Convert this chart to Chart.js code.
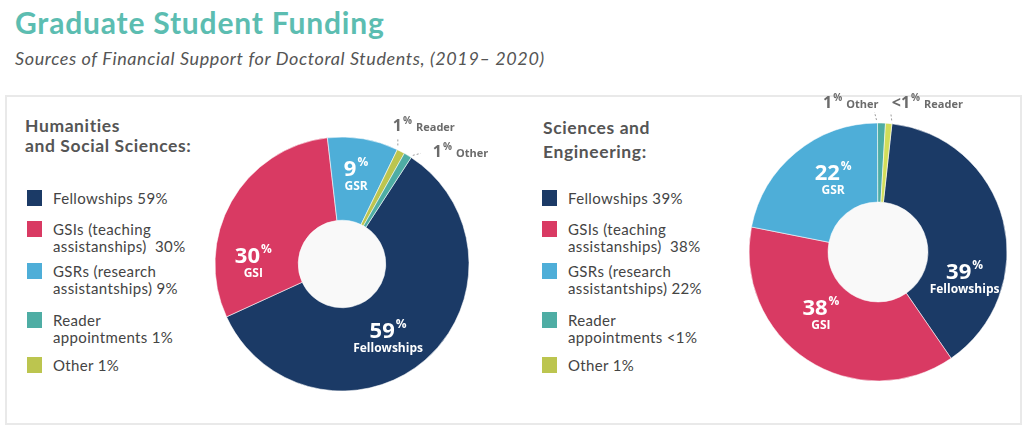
<!DOCTYPE html>
<html>
<head>
<meta charset="utf-8">
<script src="https://cdn.jsdelivr.net/npm/chart.js@4"></script>
<style>
  body { margin: 0; background: #fff; width: 1024px; height: 426px; overflow: hidden; position: relative; font-family: Lato, sans-serif; }
  #title { position: absolute; left: 15px; top: 4px; font: 700 30px Lato; letter-spacing: 0.8px; color: #5cbdb1; white-space: nowrap; }
  #subtitle { position: absolute; left: 15px; top: 47px; font: italic 18px Lato; letter-spacing: 0.6px; color: #555; white-space: nowrap; }
  #box { position: absolute; left: 5px; top: 95px; width: 1013px; height: 326px; border: 2px solid #e9e9e9; }
  .heading { position: absolute; margin: 0; font: 700 17.5px/20px Lato; letter-spacing: 0.6px; color: #555; white-space: pre; }
  #sciHeading { line-height: 24px; }
  .legend { position: absolute; list-style: none; margin: 0; padding: 0; color: #444; }
  .legend li { position: relative; padding-left: 26px; font: 15px/17px Lato; letter-spacing: 0.35px; white-space: pre; }
  .legend li:nth-child(1) { margin-bottom: 14px; }
  .legend li:nth-child(2) { margin-bottom: 8px; }
  .legend li:nth-child(3) { margin-bottom: 15px; }
  .legend li:nth-child(4) { margin-bottom: 11px; }
  .legend .sw { position: absolute; left: 0; top: 0; width: 15px; height: 16px; }
  canvas { position: absolute; }
</style>
</head>
<body>
<div id="title">Graduate Student Funding</div>
<div id="subtitle">Sources of Financial Support for Doctoral Students, (2019– 2020)</div>
<div id="box"></div>

<div class="heading" id="humHeading" style="left:25px; top:116px;">Humanities
and Social Sciences:</div>
<ul class="legend" id="humLegend" style="left:27px; top:190px;"></ul>
<canvas id="humChart" width="360" height="320" style="left:162px; top:104px;"></canvas>

<div class="heading" id="sciHeading" style="left:543px; top:116px;">Sciences and
Engineering:</div>
<ul class="legend" id="sciLegend" style="left:542px; top:190px;"></ul>
<canvas id="sciChart" width="280" height="340" style="left:738px; top:82px;"></canvas>

<script>
// legend (same order in both panels)
const legendNames = ['Fellowships', 'GSIs (teaching\nassistanships) ', 'GSRs (research\nassistantships)', 'Reader\nappointments', 'Other'];
const legendColors = ['#1b3a66', '#d93a63', '#4eaed8', '#4eada4', '#bcc54f'];
const humLegendValues = ['59%', '30%', '9%', '1%', '1%'];
const sciLegendValues = ['39%', '38%', '22%', '<1%', '1%'];

// slices, in the order they are drawn clockwise
const humTags = ['Fellowships', 'GSI', 'GSR', 'Reader', 'Other'];
const humValues = [59, 30, 9, 1, 1];
const humPct = ['59', '30', '9', '1', '1'];
const humColors = ['#1b3a66', '#d93a63', '#4eaed8', '#bcc54f', '#4eada4'];

const sciTags = ['Fellowships', 'GSI', 'GSR', 'Other', 'Reader'];
const sciValues = [39, 38, 22, 1, 0.8];
const sciPct = ['39', '38', '22', '1', '<1'];
const sciColors = ['#1b3a66', '#d93a63', '#4eaed8', '#4eada4', '#d2dd5a'];

const labelFont = '"Open Sans", sans-serif';

function buildLegend(id, values) {
    const ul = document.getElementById(id);
    for (let i = 0; i < legendNames.length; i++) {
        const li = document.createElement('li');
        const sw = document.createElement('span');
        sw.className = 'sw';
        sw.style.background = legendColors[i];
        li.appendChild(sw);
        li.appendChild(document.createTextNode(legendNames[i] + ' ' + values[i]));
        ul.appendChild(li);
    }
}

function drawInside(ctx, x, y, num, tag) {
    ctx.fillStyle = '#fff';
    ctx.textBaseline = 'alphabetic';
    ctx.textAlign = 'left';
    ctx.font = '700 22px ' + labelFont;
    const wn = ctx.measureText(num).width;
    ctx.font = '700 12px ' + labelFont;
    const wp = ctx.measureText('%').width;
    const left = x - (wn + 1 + wp) / 2;
    ctx.font = '700 22px ' + labelFont;
    ctx.fillText(num, left, y + 1);
    ctx.font = '700 12px ' + labelFont;
    ctx.fillText('%', left + wn + 1, y - 9);
    ctx.textAlign = 'center';
    ctx.fillText(tag, x, y + 15);
}

function drawOutside(ctx, ox, oy, out, num, tag) {
    ctx.save();
    ctx.strokeStyle = '#9a9a9a';
    ctx.lineWidth = 1;
    ctx.setLineDash([2, 2]);
    ctx.beginPath();
    ctx.moveTo(ox + out.leader[0], oy + out.leader[1]);
    ctx.lineTo(ox + out.leader[2], oy + out.leader[3]);
    ctx.stroke();
    ctx.restore();

    ctx.fillStyle = '#6b6b6b';
    ctx.textAlign = 'left';
    ctx.textBaseline = 'alphabetic';
    ctx.font = '700 16px ' + labelFont;
    const wn = ctx.measureText(num).width;
    ctx.font = '700 10px ' + labelFont;
    const wp = ctx.measureText('%').width;
    ctx.font = '700 11px ' + labelFont;
    const wt = ctx.measureText(tag).width;
    const total = wn + 1 + wp + 4 + wt;
    let left = ox + out.dx;
    if (out.align === 'right') left -= total;
    const base = oy + out.dy;
    ctx.font = '700 16px ' + labelFont;
    ctx.fillText(num, left, base);
    ctx.font = '700 10px ' + labelFont;
    ctx.fillText('%', left + wn + 1, base - 7);
    ctx.font = '700 11px ' + labelFont;
    ctx.fillText(tag, left + wn + 1 + wp + 4, base);
}

const donutLabels = {
    id: 'donutLabels',
    beforeDatasetsDraw(chart) {
        // light grey hole
        const p = chart.getDatasetMeta(0).data[0].getProps(['x', 'y', 'innerRadius'], true);
        const ctx = chart.ctx;
        ctx.save();
        ctx.fillStyle = '#f9f9f9';
        ctx.beginPath();
        ctx.arc(p.x, p.y, p.innerRadius, 0, Math.PI * 2);
        ctx.fill();
        ctx.restore();
    },
    afterDatasetsDraw(chart, args, opts) {
        const ctx = chart.ctx;
        const meta = chart.getDatasetMeta(0);
        ctx.save();
        meta.data.forEach((arc, i) => {
            const p = arc.getProps(['x', 'y', 'startAngle', 'endAngle', 'innerRadius', 'outerRadius'], true);
            const inside = opts.inside[i];
            if (inside) {
                const a = p.startAngle + (p.endAngle - p.startAngle) * inside[0];
                const r = p.innerRadius + (p.outerRadius - p.innerRadius) * inside[1];
                drawInside(ctx, p.x + r * Math.cos(a), p.y + r * Math.sin(a), opts.pct[i], opts.tags[i]);
            }
            const out = opts.outside[i];
            if (out) {
                const a = (p.startAngle + p.endAngle) / 2;
                drawOutside(ctx, p.x + p.outerRadius * Math.cos(a), p.y + p.outerRadius * Math.sin(a), out, opts.pct[i], opts.tags[i]);
            }
        });
        ctx.restore();
    }
};

class DonutChart {

    constructor(canvasId, values, colors, opts) {
        this.ctx = document.getElementById(canvasId).getContext('2d');
        this.config = {
            type: 'doughnut',
            data: {
                labels: opts.tags,
                datasets: [{
                    data: values,
                    backgroundColor: colors,
                    borderColor: 'rgba(255,255,255,0.55)',
                    borderWidth: 1
                }]
            },
            options: {
                responsive: false,
                devicePixelRatio: 1,
                animation: false,
                events: [],
                radius: opts.radius,
                cutout: opts.cutout,
                rotation: opts.rotation,
                plugins: {
                    legend: { display: false },
                    tooltip: { enabled: false },
                    donutLabels: opts
                }
            },
            plugins: [donutLabels]
        };
        this.chart = new Chart(this.ctx, this.config);
    }
}

buildLegend('humLegend', humLegendValues);
buildLegend('sciLegend', sciLegendValues);

new DonutChart('humChart', humValues, humColors, {
    tags: humTags,
    pct: humPct,
    radius: 127,
    cutout: 55,
    rotation: 33,
    // [fraction along slice, fraction across ring]
    inside: [[0.54, 0.51], [0.24, 0.54], [0.48, 0.56], null, null],
    outside: [null, null, null,
        { leader: [-3, -6, -3, -14], dx: -8, dy: -20, align: 'left' },
        { leader: [5, 0, 13, -2], dx: 25, dy: 2, align: 'left' }]
});

new DonutChart('sciChart', sciValues, sciColors, {
    tags: sciTags,
    pct: sciPct,
    radius: 129,
    cutout: 54,
    rotation: 6.2,
    inside: [[0.72, 0.51], [0.57, 0.43], [0.6, 0.45], null, null],
    outside: [null, null, null,
        { leader: [-5, -3, -7, -11], dx: -3, dy: -15, align: 'right' },
        { leader: [3, -3, 2, -11], dx: 3, dy: -15, align: 'left' }]
});
</script>
</body>
</html>
